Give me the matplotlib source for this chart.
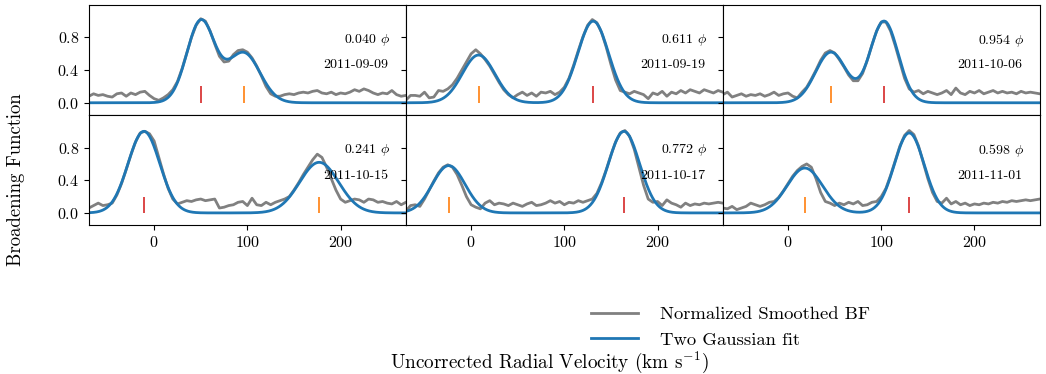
import numpy as np
import matplotlib
matplotlib.use("Agg")
import matplotlib.pyplot as plt

plt.rcParams['font.family'] = 'serif'
plt.rcParams['font.serif'] = ['cmr10']
plt.rcParams['mathtext.fontset'] = 'cm'
plt.rcParams['axes.formatter.use_mathtext'] = True
plt.rcParams['axes.unicode_minus'] = False

# velocity grid of the smoothed broadening functions (km/s)
vel = np.arange(-70, 271, 5)

dates = ['2011-09-09', '2011-09-19', '2011-10-06',
         '2011-10-15', '2011-10-17', '2011-11-01']
phases = ['0.040', '0.611', '0.954', '0.241', '0.772', '0.598']

bf_0909 = [0.08, 0.11, 0.09, 0.10, 0.08, 0.07, 0.11, 0.12, 0.08, 0.12, 0.10, 0.13, 0.14, 0.09, 0.05,
           0.03, 0.06, 0.10, 0.16, 0.26, 0.42, 0.61, 0.80, 0.95, 1.03, 1.00, 0.88, 0.72, 0.57, 0.50,
           0.51, 0.59, 0.64, 0.65, 0.62, 0.55, 0.45, 0.33, 0.20, 0.11, 0.08, 0.08, 0.10, 0.11, 0.10,
           0.12, 0.13, 0.12, 0.14, 0.15, 0.12, 0.11, 0.13, 0.10, 0.12, 0.11, 0.13, 0.16, 0.14, 0.17,
           0.15, 0.12, 0.10, 0.12, 0.11, 0.15, 0.10, 0.08, 0.09]
bf_0919 = [0.03, 0.09, 0.09, 0.08, 0.13, 0.06, 0.07, 0.15, 0.14, 0.17, 0.22, 0.30, 0.40, 0.50, 0.60,
           0.65, 0.60, 0.53, 0.45, 0.35, 0.25, 0.16, 0.10, 0.06, 0.10, 0.13, 0.09, 0.12, 0.08, 0.13,
           0.12, 0.14, 0.10, 0.13, 0.19, 0.30, 0.46, 0.64, 0.81, 0.95, 1.02, 0.98, 0.86, 0.68, 0.47,
           0.28, 0.15, 0.13, 0.11, 0.14, 0.12, 0.10, 0.05, 0.12, 0.10, 0.14, 0.08, 0.13, 0.11, 0.15,
           0.12, 0.16, 0.14, 0.12, 0.16, 0.14, 0.12, 0.15, 0.13]
bf_1006 = [0.10, 0.13, 0.07, 0.09, 0.11, 0.08, 0.10, 0.09, 0.11, 0.08, 0.10, 0.13, 0.09, 0.11, 0.12,
           0.08, 0.06, 0.13, 0.19, 0.29, 0.40, 0.52, 0.61, 0.64, 0.61, 0.53, 0.44, 0.34, 0.27, 0.27,
           0.36, 0.52, 0.71, 0.88, 0.99, 0.99, 0.88, 0.70, 0.50, 0.30, 0.17, 0.13, 0.15, 0.11, 0.14,
           0.12, 0.10, 0.12, 0.15, 0.10, 0.18, 0.12, 0.10, 0.14, 0.12, 0.15, 0.11, 0.13, 0.15, 0.12,
           0.14, 0.12, 0.13, 0.11, 0.14, 0.12, 0.13, 0.12, 0.11]
bf_1015 = [0.06, 0.09, 0.12, 0.09, 0.10, 0.12, 0.22, 0.36, 0.53, 0.71, 0.87, 0.98, 1.00, 0.97, 0.88,
           0.68, 0.48, 0.30, 0.17, 0.11, 0.13, 0.15, 0.14, 0.16, 0.17, 0.15, 0.16, 0.17, 0.06, 0.07,
           0.09, 0.10, 0.13, 0.14, 0.09, 0.18, 0.10, 0.09, 0.13, 0.10, 0.13, 0.15, 0.17, 0.20, 0.28,
           0.37, 0.47, 0.56, 0.65, 0.72, 0.68, 0.56, 0.42, 0.28, 0.17, 0.13, 0.15, 0.17, 0.16, 0.13,
           0.17, 0.16, 0.13, 0.14, 0.12, 0.11, 0.14, 0.10, 0.13]
bf_1017 = [0.02, 0.09, 0.10, 0.08, 0.17, 0.28, 0.39, 0.49, 0.56, 0.59, 0.56, 0.47, 0.34, 0.20, 0.10,
           0.07, 0.05, 0.12, 0.15, 0.10, 0.12, 0.11, 0.09, 0.12, 0.10, 0.08, 0.11, 0.13, 0.09, 0.10,
           0.12, 0.15, 0.12, 0.14, 0.10, 0.13, 0.12, 0.15, 0.13, 0.15, 0.17, 0.24, 0.37, 0.53, 0.71,
           0.87, 0.98, 1.01, 0.94, 0.78, 0.56, 0.34, 0.17, 0.13, 0.14, 0.09, 0.16, 0.12, 0.10, 0.07,
           0.12, 0.09, 0.11, 0.10, 0.12, 0.11, 0.12, 0.13, 0.12]
bf_1101 = [0.06, 0.05, 0.08, 0.04, 0.06, 0.08, 0.12, 0.10, 0.08, 0.10, 0.13, 0.14, 0.19, 0.27, 0.36,
           0.45, 0.52, 0.57, 0.60, 0.56, 0.42, 0.25, 0.14, 0.12, 0.09, 0.12, 0.10, 0.13, 0.11, 0.14,
           0.09, 0.10, 0.13, 0.14, 0.20, 0.30, 0.46, 0.64, 0.82, 0.95, 1.01, 0.96, 0.82, 0.62, 0.42,
           0.25, 0.14, 0.12, 0.18, 0.11, 0.14, 0.10, 0.12, 0.09, 0.11, 0.10, 0.12, 0.11, 0.13, 0.12,
           0.14, 0.13, 0.15, 0.14, 0.15, 0.16, 0.15, 0.16, 0.17]
bf_all = [bf_0909, bf_0919, bf_1006, bf_1015, bf_1017, bf_1101]

# two-gaussian fit parameters: primary (red) and secondary (orange)
amp1 = [1.00, 1.00, 1.00, 1.00, 1.00, 0.98]
cen1 = [50, 131, 103, -11, 164, 130]
sig1 = [15.0, 16.5, 15.0, 17.0, 16.7, 16.0]
amp2 = [0.61, 0.585, 0.62, 0.62, 0.58, 0.55]
cen2 = [96, 8, 46, 177, -24, 18]
sig2 = [17.5, 17.5, 16.5, 21.0, 17.5, 19.0]


def gauss(x, a, mu, s):
    return a * np.exp(-(x - mu) ** 2 / (2 * s ** 2))


vfine = np.linspace(-70, 270, 700)

fig, axes = plt.subplots(2, 3, sharex=True, sharey=True, figsize=(10.46, 3.74), dpi=100)
fig.subplots_adjust(left=0.085, right=0.994, top=0.987, bottom=0.398, wspace=0, hspace=0)

for i, ax in enumerate(axes.flat):
    ax.plot(vel, bf_all[i], color='gray', lw=2, label='Normalized Smoothed BF')
    fit = gauss(vfine, amp1[i], cen1[i], sig1[i]) + gauss(vfine, amp2[i], cen2[i], sig2[i])
    ax.plot(vfine, fit, color='#1f77b4', lw=2, label='Two Gaussian fit')
    ax.vlines(cen1[i], 0, 0.2, color='#d62728', lw=1.2)
    ax.vlines(cen2[i], 0, 0.2, color='#ff7f0e', lw=1.2)
    ax.text(0.95, 0.68, phases[i] + r' $\phi$', transform=ax.transAxes,
            ha='right', va='center', fontsize=10)
    ax.text(0.945, 0.45, dates[i], transform=ax.transAxes,
            ha='right', va='center', fontsize=10)
    ax.set_xlim(-70, 270)
    ax.set_ylim(-0.15, 1.2)
    ax.set_xticks([0, 100, 200])
    ax.set_yticks([0.0, 0.4, 0.8])
    ax.tick_params(labelsize=11.5)

for ax in axes[0]:
    ax.tick_params(bottom=False)

handles, labels = axes[0, 0].get_legend_handles_labels()
fig.legend(handles, labels, loc='upper left', bbox_to_anchor=(0.549, 0.226),
           frameon=False, fontsize=13.4, handlelength=2.5, handletextpad=1.2)
fig.text(0.525, 0.032, r'Uncorrected Radial Velocity (km s$^{-1}$)', ha='center', va='center', fontsize=13.8)
fig.text(0.0155, 0.52, 'Broadening Function', rotation=90, ha='center', va='center', fontsize=13.5)

fig.savefig('out.png', dpi=100)
